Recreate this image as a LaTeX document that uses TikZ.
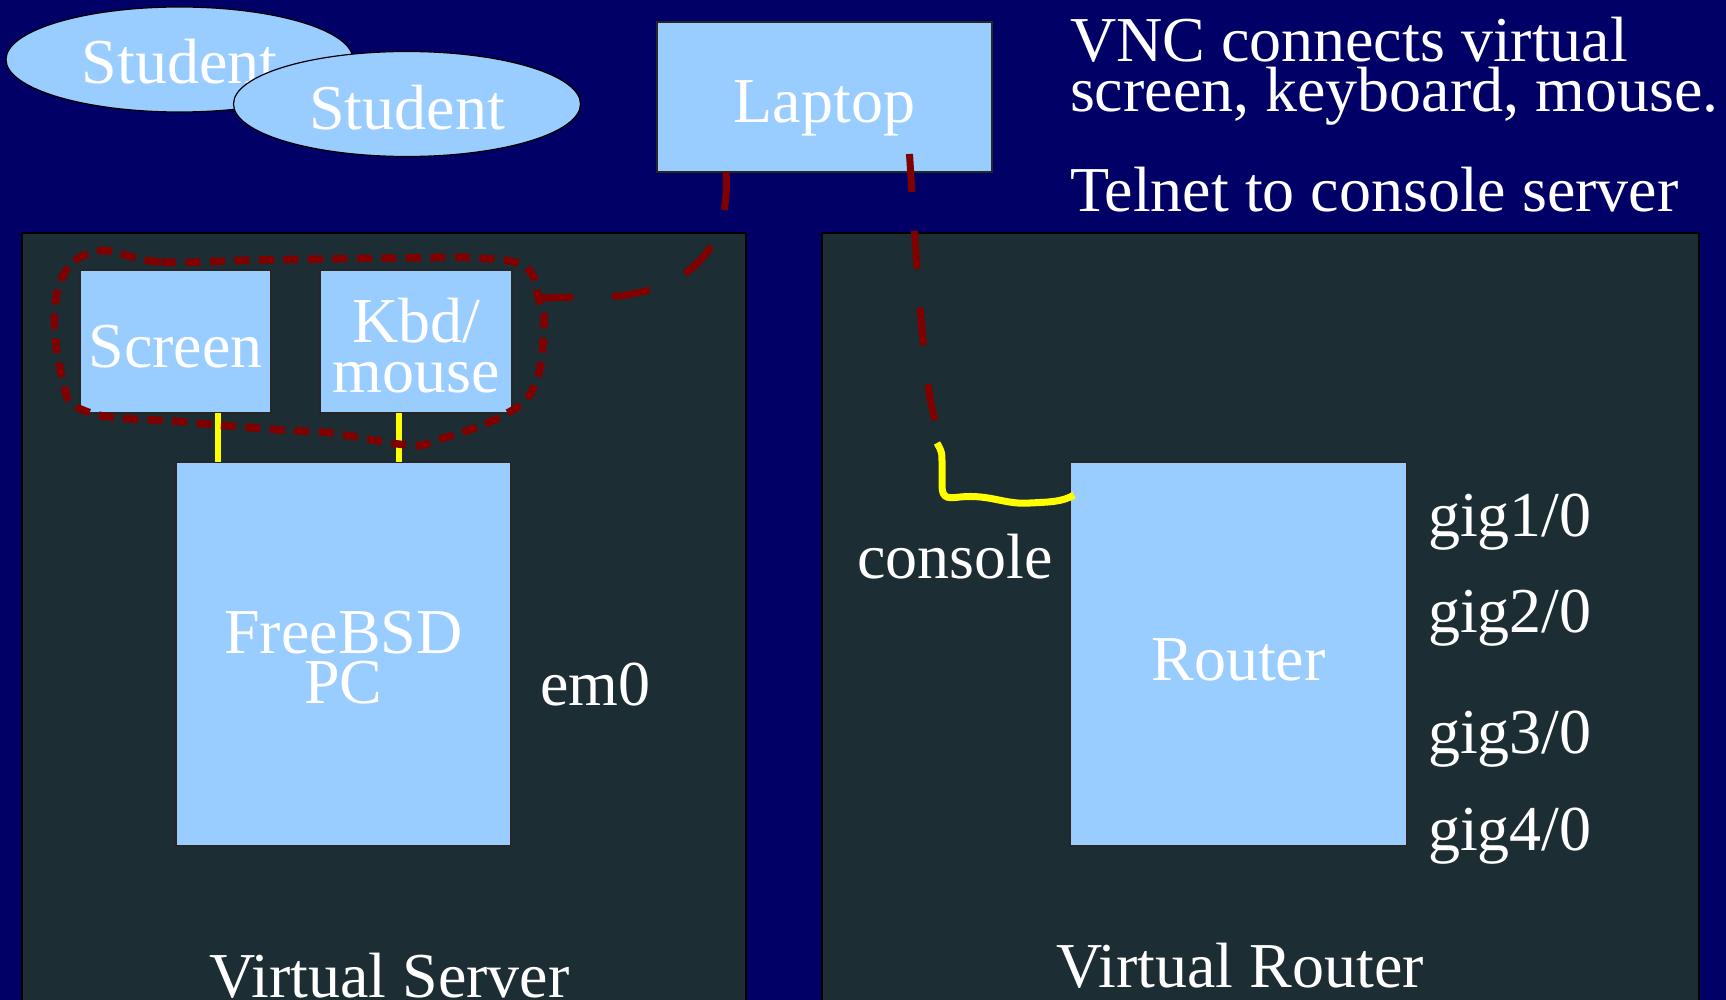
\documentclass[tikz,border=0pt]{standalone}
\usepackage{fontspec}
\setmainfont{Liberation Serif}
\usetikzlibrary{shapes.geometric}
\definecolor{navybg}{HTML}{000066}
\definecolor{panelc}{HTML}{1C2E34}
\definecolor{boxc}{HTML}{99CCFF}
\definecolor{dred}{HTML}{800000}
\definecolor{yel}{HTML}{FFFF00}
\newcommand{\mytwolines}[2]{\vtop{\halign{\hfil##\hfil\cr #1\cr #2\cr}}}
\newcommand{\myleftlines}[2]{\vtop{\halign{##\hfil\cr #1\cr #2\cr}}}
\begin{document}
\begin{tikzpicture}[x=1pt,y=-1pt,
  every node/.style={inner sep=0pt,outer sep=0pt,font=\fontsize{64}{50}\selectfont,text=white},
  panel/.style={rectangle,draw=black,line width=1.2pt,fill=panelc,anchor=north west},
  bluebox/.style={rectangle,draw=black!85,line width=1.2pt,fill=boxc},
  student/.style={ellipse,draw=black,line width=1.2pt,fill=boxc,minimum width=347pt,minimum height=105pt},
  yline/.style={draw=yel,line width=6.5pt},
  redcon/.style={draw=dred,line width=7pt,dash pattern=on 38pt off 39pt},
  redloop/.style={draw=dred,line width=7.5pt,dash pattern=on 15pt off 9.5pt}]
\useasboundingbox (0,0) rectangle (1726,1000);
\fill[navybg] (0,0) rectangle (1726,1000);
\begin{scope}
\clip (0,0) rectangle (1726,1000);
\node[panel,minimum width=724pt,minimum height=800pt] (srvpanel) at (22,233) {};
\node[panel,minimum width=877pt,minimum height=800pt] (rtrpanel) at (822,233) {};
\end{scope}
\node[anchor=base] (srvlabel) at (389.5,997) {Virtual Server};
\node[anchor=base] (rtrlabel) at (1240,987) {Virtual Router};
% students and laptop
\node[student,text height=49pt,text depth=0pt] (stu1) at (179.5,59.5) {Student};
\node[student,text height=52pt,text depth=0pt] (stu2) at (407,104) {Student};
\node[bluebox,minimum width=335pt,minimum height=150pt,text height=52pt,text depth=0pt] (laptop) at (824.5,97) {Laptop};
% texts top right
\node[anchor=base west] (vnc) at (1070,62) {\myleftlines{VNC connects virtual}{screen, keyboard, mouse.}};
\node[anchor=base west] (telnet) at (1070,212) {Telnet to console server};
% server side
\node[bluebox,minimum width=191pt,minimum height=143pt,text height=51pt,text depth=0pt] (screen) at (175.5,341.5) {Screen};
\node[bluebox,minimum width=192pt,minimum height=143pt,text height=25pt,text depth=24pt] (kbd) at (416,341.5) {\mytwolines{Kbd/}{mouse}};
\node[bluebox,minimum width=335pt,minimum height=384pt,text height=24pt,text depth=26pt] (pc) at (343.5,654) {\mytwolines{FreeBSD}{PC}};
\node[anchor=base west] (em0) at (540,705) {em0};
% router side
\node[bluebox,minimum width=337pt,minimum height=384pt,text height=52pt,text depth=0pt] (router) at (1238.5,654) {Router};
\node[anchor=base west] (console) at (857,578) {console};
\node[anchor=base west] (gig1) at (1428,536) {gig1/0};
\node[anchor=base west] (gig2) at (1428,632) {gig2/0};
\node[anchor=base west] (gig3) at (1428,753) {gig3/0};
\node[anchor=base west] (gig4) at (1428,850) {gig4/0};
% yellow links
\draw[yline] ([xshift=42.5pt]screen.south) -- ([xshift=42.5pt]screen.south |- pc.north);
\draw[yline] ([xshift=-17pt]kbd.south) -- ([xshift=-17pt]kbd.south |- pc.north);
\coordinate (consoletop) at (937,443);
\draw[yline,line width=7pt] (consoletop) .. controls (942,452) .. (942,465) -- (942,486)
  .. controls (942,500) and (950,498) .. (960,497)
  .. controls (990,494) and (1005,505) .. (1030,503)
  .. controls (1050,502) and (1062,502) .. ([xshift=4pt,yshift=-33pt]router.north west);
% VNC loop
\draw[redloop] plot[smooth cycle,tension=0.7] coordinates {
  (93,252) (161,262) (258,260) (404,258) (476,258) (525,267) (539,300) (544,327)
  (534,387) (500,417) (437,440) (408,445) (331,433) (282,430) (185,422) (88,412)
  (62,377) (57,293)};
% red connectors
\coordinate (vncjoin) at (540,298);
\draw[redcon] ([xshift=-98.5pt]laptop.south) .. controls (730,240) and (700,285) .. (620,296) -- (vncjoin);
\coordinate (telnetend) at (935,420);
\draw[redcon] ([xshift=85pt,yshift=18pt]laptop.south) .. controls (918,290) and (925,390) .. (telnetend);
\end{tikzpicture}
\end{document}
